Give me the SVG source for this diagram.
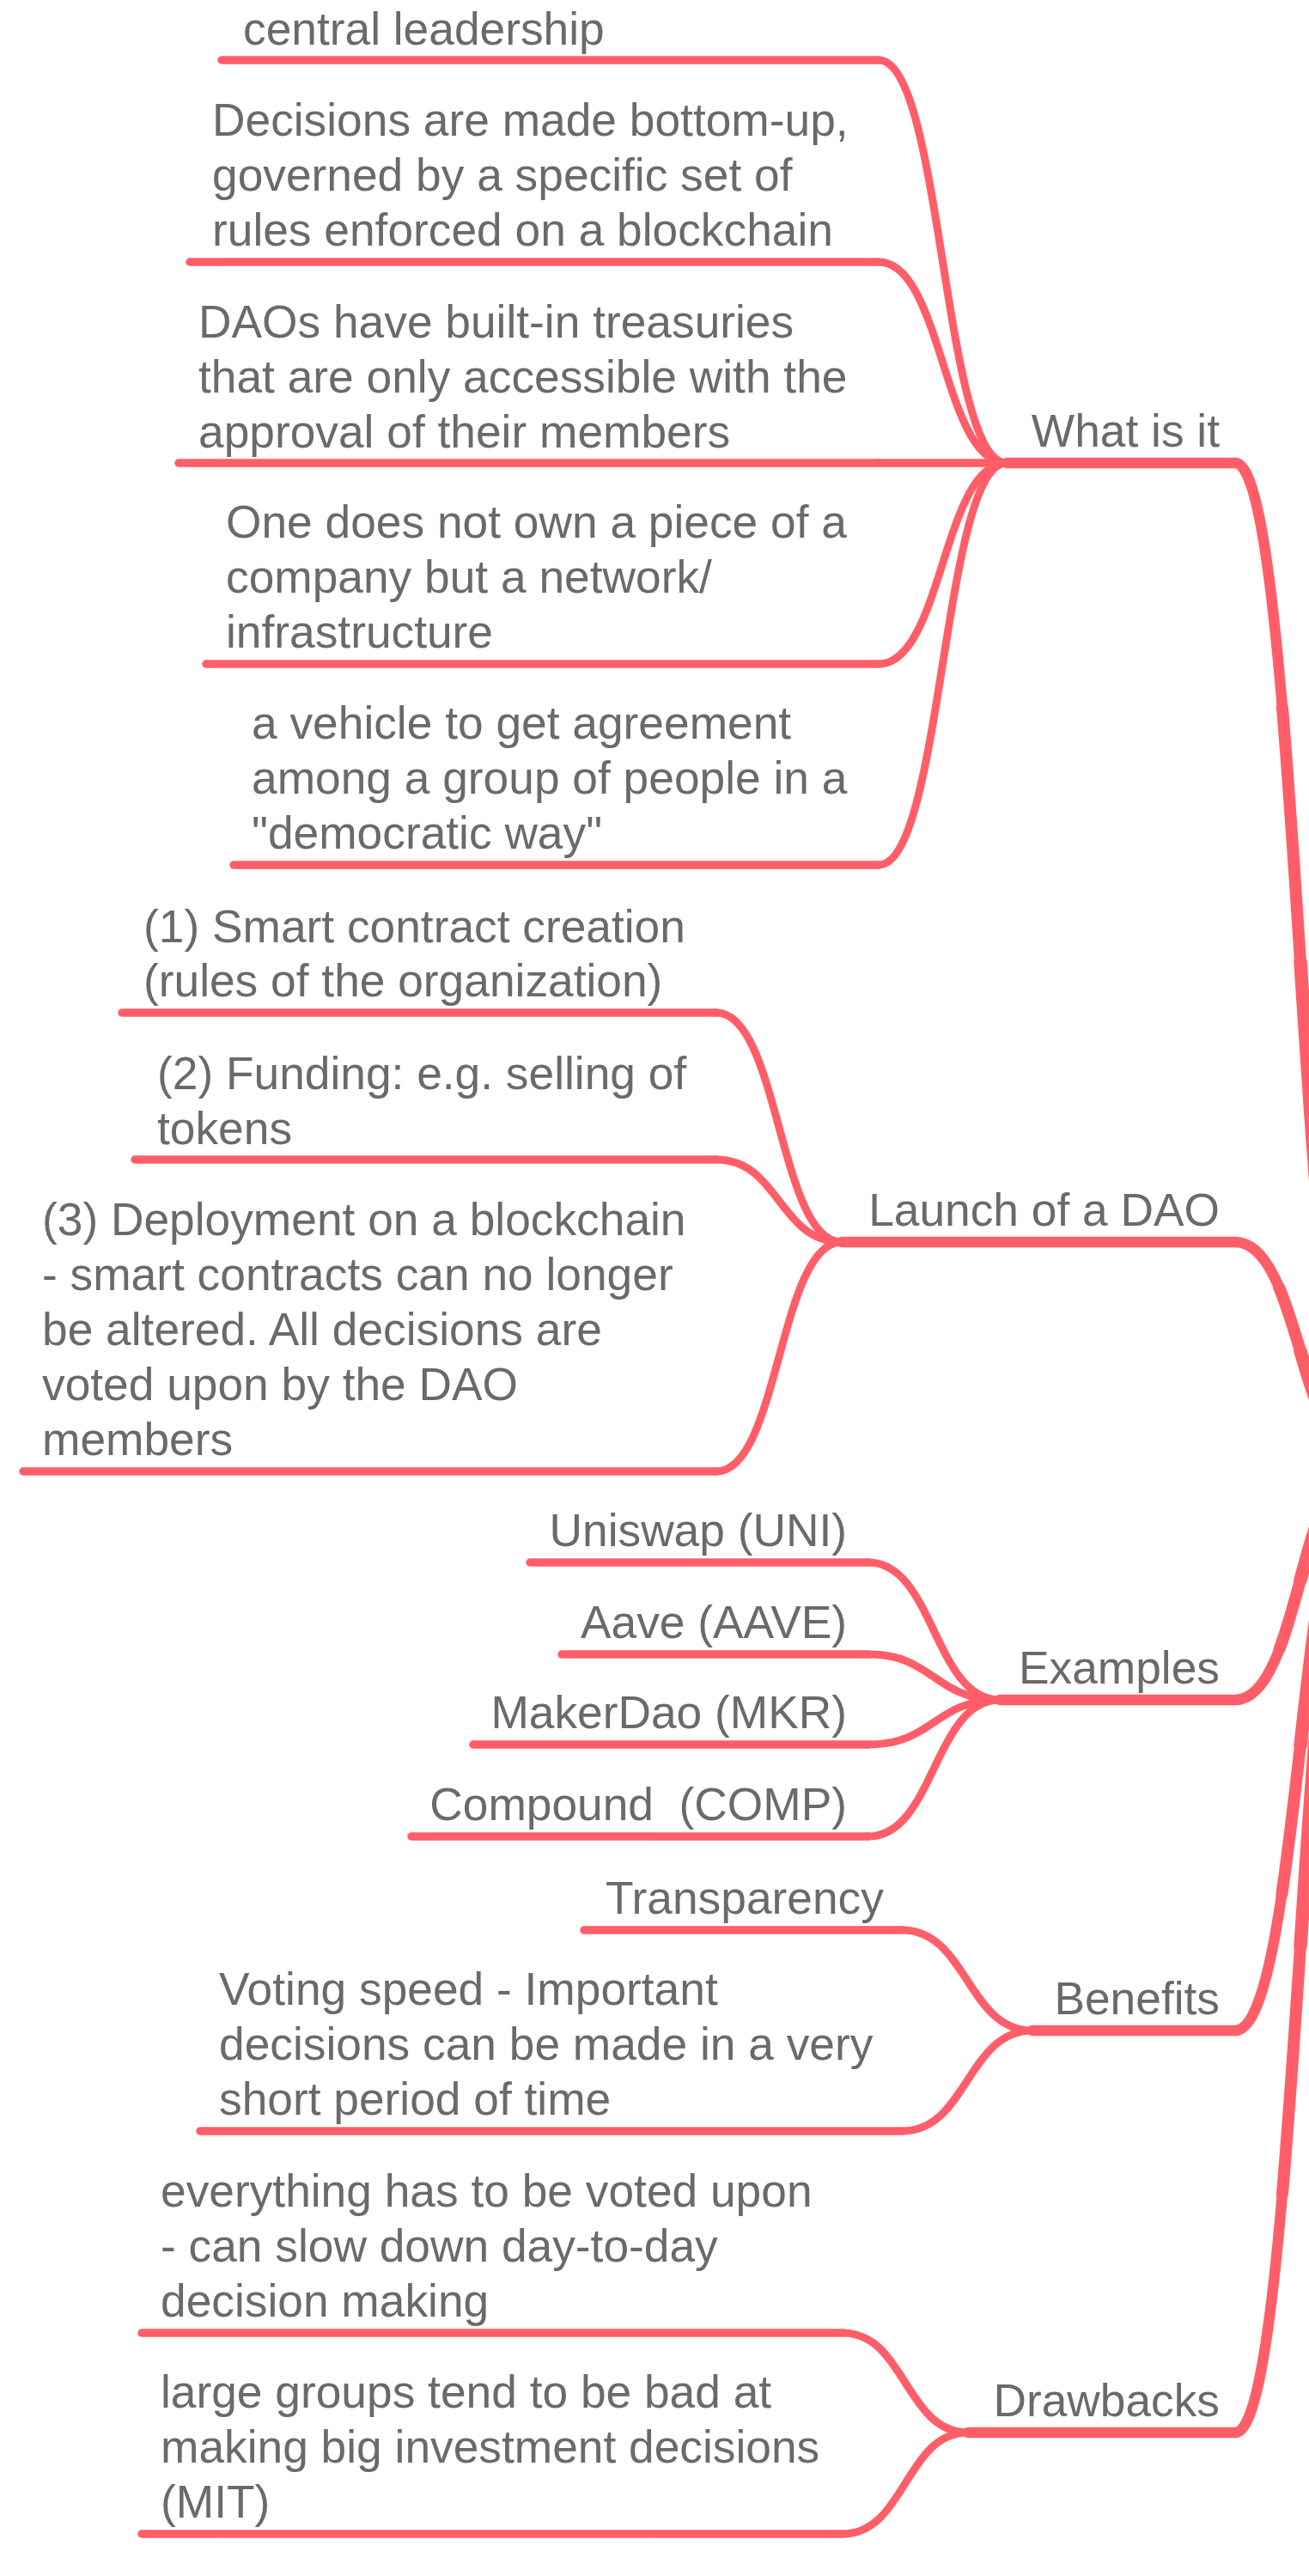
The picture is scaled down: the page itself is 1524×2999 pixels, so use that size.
<svg xmlns="http://www.w3.org/2000/svg" width="1524" height="2999" viewBox="0 0 1524 2999">
<style>
.t{font-family:"Liberation Sans",Arial,Helvetica,sans-serif;font-size:53.3px;fill:#6A6A6A}
.e{text-anchor:end}
.ul{fill:none;stroke:#FF5E69;stroke-width:9.5;stroke-linecap:round}
.cu{fill:none;stroke:#FF5E69;stroke-width:12.5;stroke-linecap:round}
.lc{fill:none;stroke:#FF5E69;stroke-width:9;stroke-linecap:round}
.tr{fill:none;stroke:#FF5E69;stroke-width:12.5;stroke-linecap:round}
.tr2{fill:none;stroke:#FF5E69;stroke-width:14;stroke-linecap:round;stroke-dasharray:75 100;stroke-dashoffset:-25}
.tr3{fill:none;stroke:#FF5E69;stroke-width:15.5;stroke-linecap:round;stroke-dasharray:50 100;stroke-dashoffset:-50}
</style>
<rect width="1524" height="2999" fill="#FFFFFF"/>
<g id="connectors">
<g id="trunk">
<path class="tr" d="M1438,539 C1514,539 1514,1700 1590,1700" pathLength="100"/>
<path class="tr2" d="M1438,539 C1514,539 1514,1700 1590,1700" pathLength="100"/>
<path class="tr3" d="M1438,539 C1514,539 1514,1700 1590,1700" pathLength="100"/>
<path class="tr" d="M1438,1446 C1514,1446 1514,1700 1590,1700" pathLength="100"/>
<path class="tr2" d="M1438,1446 C1514,1446 1514,1700 1590,1700" pathLength="100"/>
<path class="tr3" d="M1438,1446 C1514,1446 1514,1700 1590,1700" pathLength="100"/>
<path class="tr" d="M1438,1979 C1514,1979 1514,1700 1590,1700" pathLength="100"/>
<path class="tr2" d="M1438,1979 C1514,1979 1514,1700 1590,1700" pathLength="100"/>
<path class="tr3" d="M1438,1979 C1514,1979 1514,1700 1590,1700" pathLength="100"/>
<path class="tr" d="M1438,2364 C1514,2364 1514,1700 1590,1700" pathLength="100"/>
<path class="tr2" d="M1438,2364 C1514,2364 1514,1700 1590,1700" pathLength="100"/>
<path class="tr3" d="M1438,2364 C1514,2364 1514,1700 1590,1700" pathLength="100"/>
<path class="tr" d="M1438,2832 C1514,2832 1514,1700 1590,1700" pathLength="100"/>
<path class="tr2" d="M1438,2832 C1514,2832 1514,1700 1590,1700" pathLength="100"/>
<path class="tr3" d="M1438,2832 C1514,2832 1514,1700 1590,1700" pathLength="100"/>
</g>
<g id="c-what">
<path class="lc" d="M1023,70 C1097.5,70 1097.5,539 1172,539"/>
<path class="lc" d="M1023,305 C1097.5,305 1097.5,539 1172,539"/>
<path class="ul" d="M1023,539 H1172"/>
<path class="lc" d="M1023,773 C1097.5,773 1097.5,539 1172,539"/>
<path class="lc" d="M1023,1007 C1097.5,1007 1097.5,539 1172,539"/>
</g>
<g id="c-launch">
<path class="lc" d="M834,1179 C907,1179 907,1446 980,1446"/>
<path class="lc" d="M834,1350 C907,1350 907,1446 980,1446"/>
<path class="lc" d="M834,1713 C907,1713 907,1446 980,1446"/>
</g>
<g id="c-examples">
<path class="lc" d="M1011,1819 C1087.5,1819 1087.5,1979 1164,1979"/>
<path class="lc" d="M1011,1926 C1087.5,1926 1087.5,1979 1164,1979"/>
<path class="lc" d="M1011,2031 C1087.5,2031 1087.5,1979 1164,1979"/>
<path class="lc" d="M1011,2138 C1087.5,2138 1087.5,1979 1164,1979"/>
</g>
<g id="c-benefits">
<path class="lc" d="M1050,2247 C1126,2247 1126,2364 1202,2364"/>
<path class="lc" d="M1050,2481 C1126,2481 1126,2364 1202,2364"/>
</g>
<g id="c-drawbacks">
<path class="lc" d="M981,2716 C1054,2716 1054,2832 1127,2832"/>
<path class="lc" d="M981,2950 C1054,2950 1054,2832 1127,2832"/>
</g>
</g>

<g id="cat-what">
<line class="cu" x1="1172" y1="539" x2="1438" y2="539"/>
<text class="t e" x="1420" y="520">What is it</text>
</g>
<g id="what-1">
<line class="ul" x1="258" y1="70" x2="1023" y2="70"/>
<text class="t" x="283" y="52">central leadership</text>
</g>
<g id="what-2">
<line class="ul" x1="221" y1="305" x2="1023" y2="305"/>
<text class="t" x="247" y="158">Decisions are made bottom-up,</text>
<text class="t" x="247" y="222">governed by a specific set of</text>
<text class="t" x="247" y="286">rules enforced on a blockchain</text>
</g>
<g id="what-3">
<line class="ul" x1="208" y1="539" x2="1023" y2="539"/>
<text class="t" x="231" y="393">DAOs have built-in treasuries</text>
<text class="t" x="231" y="457">that are only accessible with the</text>
<text class="t" x="231" y="521">approval of their members</text>
</g>
<g id="what-4">
<line class="ul" x1="240" y1="773" x2="1023" y2="773"/>
<text class="t" x="263" y="626">One does not own a piece of a</text>
<text class="t" x="263" y="690">company but a network/</text>
<text class="t" x="263" y="754">infrastructure</text>
</g>
<g id="what-5">
<line class="ul" x1="272" y1="1007" x2="1023" y2="1007"/>
<text class="t" x="293" y="860">a vehicle to get agreement</text>
<text class="t" x="293" y="924">among a group of people in a</text>
<text class="t" x="293" y="988">"democratic way"</text>
</g>

<g id="cat-launch">
<line class="cu" x1="980" y1="1446" x2="1438" y2="1446"/>
<text class="t e" x="1420" y="1427">Launch of a DAO</text>
</g>
<g id="launch-1">
<line class="ul" x1="142" y1="1179" x2="834" y2="1179"/>
<text class="t" x="167" y="1097">(1) Smart contract creation</text>
<text class="t" x="167" y="1160">(rules of the organization)</text>
</g>
<g id="launch-2">
<line class="ul" x1="157" y1="1350" x2="834" y2="1350"/>
<text class="t" x="183" y="1268">(2) Funding: e.g. selling of</text>
<text class="t" x="183" y="1332">tokens</text>
</g>
<g id="launch-3">
<line class="ul" x1="27" y1="1713" x2="834" y2="1713"/>
<text class="t" x="49" y="1438">(3) Deployment on a blockchain</text>
<text class="t" x="49" y="1502">- smart contracts can no longer</text>
<text class="t" x="49" y="1566">be altered. All decisions are</text>
<text class="t" x="49" y="1630">voted upon by the DAO</text>
<text class="t" x="49" y="1694">members</text>
</g>

<g id="cat-examples">
<line class="cu" x1="1164" y1="1979" x2="1438" y2="1979"/>
<text class="t e" x="1420" y="1960">Examples</text>
</g>
<g id="ex-1">
<line class="ul" x1="617" y1="1819" x2="1011" y2="1819"/>
<text class="t e" x="986" y="1800">Uniswap (UNI)</text>
</g>
<g id="ex-2">
<line class="ul" x1="654" y1="1926" x2="1011" y2="1926"/>
<text class="t e" x="986" y="1907">Aave (AAVE)</text>
</g>
<g id="ex-3">
<line class="ul" x1="551" y1="2031" x2="1011" y2="2031"/>
<text class="t e" x="986" y="2012">MakerDao (MKR)</text>
</g>
<g id="ex-4">
<line class="ul" x1="479" y1="2138" x2="1011" y2="2138"/>
<text class="t e" x="986" y="2119" xml:space="preserve" style="white-space:pre">Compound  (COMP)</text>
</g>

<g id="cat-benefits">
<line class="cu" x1="1202" y1="2364" x2="1438" y2="2364"/>
<text class="t e" x="1420" y="2345">Benefits</text>
</g>
<g id="ben-1">
<line class="ul" x1="680" y1="2247" x2="1050" y2="2247"/>
<text class="t" x="705" y="2228">Transparency</text>
</g>
<g id="ben-2">
<line class="ul" x1="233" y1="2481" x2="1050" y2="2481"/>
<text class="t" x="255" y="2334">Voting speed - Important</text>
<text class="t" x="255" y="2398">decisions can be made in a very</text>
<text class="t" x="255" y="2462">short period of time</text>
</g>

<g id="cat-drawbacks">
<line class="cu" x1="1127" y1="2832" x2="1438" y2="2832"/>
<text class="t e" x="1420" y="2813">Drawbacks</text>
</g>
<g id="draw-1">
<line class="ul" x1="165" y1="2716" x2="981" y2="2716"/>
<text class="t" x="187" y="2569">everything has to be voted upon</text>
<text class="t" x="187" y="2633">- can slow down day-to-day</text>
<text class="t" x="187" y="2697">decision making</text>
</g>
<g id="draw-2">
<line class="ul" x1="165" y1="2950" x2="981" y2="2950"/>
<text class="t" x="187" y="2803">large groups tend to be bad at</text>
<text class="t" x="187" y="2867">making big investment decisions</text>
<text class="t" x="187" y="2931">(MIT)</text>
</g>
</svg>
